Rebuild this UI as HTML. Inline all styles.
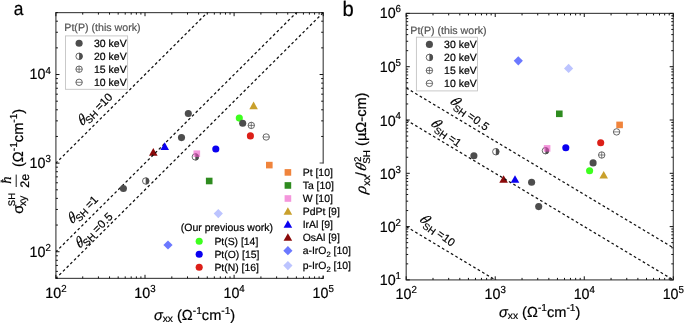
<!DOCTYPE html>
<html lang="en"><head><meta charset="utf-8"><title>Spin Hall conductivity figure</title>
<style>html,body{margin:0;padding:0;background:#fff}body{width:685px;height:325px;overflow:hidden}svg{display:block}text{font-family:'Liberation Sans', sans-serif;stroke:#000;stroke-width:.2px;text-rendering:geometricPrecision}.gt{fill:#555;stroke:#555}.sf{font-family:'Liberation Serif',serif}</style></head><body>
<svg width="685" height="325" viewBox="0 0 685 325">
<rect width="685" height="325" fill="#fff"/>
<defs>
<clipPath id="ca"><rect x="55.9" y="12.6" width="267.3" height="265.8"/></clipPath>
<clipPath id="cb"><rect x="406.2" y="13.4" width="267.1" height="266.5"/></clipPath>
</defs>
<g id="panel-a">
<rect x="55.9" y="12.6" width="267.3" height="265.8" fill="none" stroke="#4a4a4a" stroke-width="1.2"/>
<path d="M153.3 148.09L157.6 155.69L149 155.69z" fill="#8b0a0a"/>
<line x1="11.35" y1="207.43" x2="367.75" y2="-146.97" stroke="#111" stroke-width="1.25" stroke-dasharray="2.7 2.5" clip-path="url(#ca)"/>
<line x1="11.35" y1="296.03" x2="367.75" y2="-58.37" stroke="#111" stroke-width="1.25" stroke-dasharray="2.7 2.5" clip-path="url(#ca)"/>
<line x1="11.35" y1="322.7" x2="367.75" y2="-31.7" stroke="#111" stroke-width="1.25" stroke-dasharray="2.7 2.5" clip-path="url(#ca)"/>
<path d="M55.9 278.4v-3.6M55.9 12.6v3.6M82.72 278.4v-2M82.72 12.6v2M98.41 278.4v-2M98.41 12.6v2M109.54 278.4v-2M109.54 12.6v2M118.18 278.4v-2M118.18 12.6v2M125.23 278.4v-2M125.23 12.6v2M131.2 278.4v-2M131.2 12.6v2M136.37 278.4v-2M136.37 12.6v2M140.92 278.4v-2M140.92 12.6v2M145 278.4v-3.6M145 12.6v3.6M171.82 278.4v-2M171.82 12.6v2M187.51 278.4v-2M187.51 12.6v2M198.64 278.4v-2M198.64 12.6v2M207.28 278.4v-2M207.28 12.6v2M214.33 278.4v-2M214.33 12.6v2M220.3 278.4v-2M220.3 12.6v2M225.47 278.4v-2M225.47 12.6v2M230.02 278.4v-2M230.02 12.6v2M234.1 278.4v-3.6M234.1 12.6v3.6M260.92 278.4v-2M260.92 12.6v2M276.61 278.4v-2M276.61 12.6v2M287.74 278.4v-2M287.74 12.6v2M296.38 278.4v-2M296.38 12.6v2M303.43 278.4v-2M303.43 12.6v2M309.4 278.4v-2M309.4 12.6v2M314.57 278.4v-2M314.57 12.6v2M319.12 278.4v-2M319.12 12.6v2M323.2 278.4v-3.6M323.2 12.6v3.6M55.9 278.4h2M323.2 278.4h-2M55.9 271.38h2M323.2 271.38h-2M55.9 265.45h2M323.2 265.45h-2M55.9 260.31h2M323.2 260.31h-2M55.9 255.78h2M323.2 255.78h-2M55.9 251.73h3.6M323.2 251.73h-3.6M55.9 225.06h2M323.2 225.06h-2M55.9 209.46h2M323.2 209.46h-2M55.9 198.39h2M323.2 198.39h-2M55.9 189.8h2M323.2 189.8h-2M55.9 182.78h2M323.2 182.78h-2M55.9 176.85h2M323.2 176.85h-2M55.9 171.71h2M323.2 171.71h-2M55.9 167.18h2M323.2 167.18h-2M55.9 163.13h3.6M323.2 163.13h-3.6M55.9 136.46h2M323.2 136.46h-2M55.9 120.86h2M323.2 120.86h-2M55.9 109.79h2M323.2 109.79h-2M55.9 101.2h2M323.2 101.2h-2M55.9 94.18h2M323.2 94.18h-2M55.9 88.25h2M323.2 88.25h-2M55.9 83.11h2M323.2 83.11h-2M55.9 78.58h2M323.2 78.58h-2M55.9 74.53h3.6M323.2 74.53h-3.6M55.9 47.86h2M323.2 47.86h-2M55.9 32.26h2M323.2 32.26h-2M55.9 21.19h2M323.2 21.19h-2M55.9 12.6h2M323.2 12.6h-2" fill="none" stroke="#111" stroke-width="1.0"/>
<circle cx="123.4" cy="188.5" r="3.55" fill="#4d4d4d"/>
<circle cx="181.5" cy="137.6" r="3.55" fill="#4d4d4d"/>
<circle cx="188.3" cy="113.5" r="3.55" fill="#4d4d4d"/>
<circle cx="145.7" cy="181" r="3.2" fill="#fff" stroke="#4d4d4d" stroke-width="0.85"/>
<path d="M145.7 177.45a3.55 3.55 0 0 1 0 7.1z" fill="#4d4d4d"/>
<path d="M164.7 142.29L169 149.89L160.4 149.89z" fill="#0a00f0"/>
<circle cx="195.3" cy="156.9" r="3.2" fill="#fff" stroke="#4d4d4d" stroke-width="0.85"/>
<path d="M195.3 153.35a3.55 3.55 0 0 1 0 7.1z" fill="#4d4d4d"/>
<rect x="193.5" y="150.4" width="6.6" height="6.6" fill="#ec50c4" fill-opacity="0.6"/>
<circle cx="215.8" cy="149" r="3.55" fill="#0a00f0"/>
<rect x="205.9" y="177.7" width="6.6" height="6.6" fill="#2e8b1f"/>
<rect x="266" y="161.8" width="6.6" height="6.6" fill="#f0843c"/>
<path d="M253.6 101.59L257.9 109.19L249.3 109.19z" fill="#c9a02c"/>
<circle cx="239.3" cy="118.1" r="3.55" fill="#3dff1e"/>
<circle cx="242.7" cy="123.2" r="3.55" fill="#4d4d4d"/>
<circle cx="251.3" cy="125.4" r="3.2" fill="#fff" stroke="#4d4d4d" stroke-width="0.85"/>
<path d="M248.1 125.4h6.4M251.3 122.2v6.4" stroke="#4d4d4d" stroke-width="0.7" fill="none"/>
<circle cx="250.4" cy="135.9" r="3.55" fill="#dc1f18"/>
<circle cx="266.2" cy="137" r="3.2" fill="#fff" stroke="#4d4d4d" stroke-width="0.85"/>
<path d="M263 137h6.4" stroke="#4d4d4d" stroke-width="0.7" fill="none"/>
<path d="M168 240.4L172.6 245L168 249.6L163.4 245z" fill="#6b78ff"/>
<path d="M218.3 209L222.9 213.6L218.3 218.2L213.7 213.6z" fill="#bcc4ff"/>
<text x="64.3" y="30.7" font-size="10.65" fill="#000" text-anchor="start" class="gt">Pt(P) (this work)</text>
<rect x="65.5" y="35.9" width="62.1" height="53.4" fill="#fff" stroke="#c4c4c4" stroke-width="0.9"/>
<circle cx="79.1" cy="43.2" r="3.55" fill="#4d4d4d"/>
<circle cx="79.1" cy="56.3" r="3.2" fill="#fff" stroke="#4d4d4d" stroke-width="0.85"/>
<path d="M79.1 52.75a3.55 3.55 0 0 1 0 7.1z" fill="#4d4d4d"/>
<circle cx="79.1" cy="69.2" r="3.2" fill="#fff" stroke="#4d4d4d" stroke-width="0.85"/>
<path d="M75.9 69.2h6.4M79.1 66v6.4" stroke="#4d4d4d" stroke-width="0.7" fill="none"/>
<circle cx="79.1" cy="82.3" r="3.2" fill="#fff" stroke="#4d4d4d" stroke-width="0.85"/>
<path d="M75.9 82.3h6.4" stroke="#4d4d4d" stroke-width="0.7" fill="none"/>
<text x="94" y="46.6" font-size="10.5" fill="#000" text-anchor="start">30 keV</text>
<text x="94" y="59.65" font-size="10.5" fill="#000" text-anchor="start">20 keV</text>
<text x="94" y="72.7" font-size="10.5" fill="#000" text-anchor="start">15 keV</text>
<text x="94" y="85.75" font-size="10.5" fill="#000" text-anchor="start">10 keV</text>
<g transform="translate(82 125.5) rotate(-45)" fill="#000"><text class="sf" transform="translate(-0.75 0.6) skewX(-16)" font-style="italic" font-size="14.7">θ</text><text x="6.1" y="4.2" font-size="9.7">SH</text><text x="22.4" y="2.4" font-size="11.3">=10</text></g>
<g transform="translate(72.1 223.5) rotate(-45)" fill="#000"><text class="sf" transform="translate(-0.75 0.6) skewX(-16)" font-style="italic" font-size="14.7">θ</text><text x="6.1" y="4.2" font-size="9.7">SH</text><text x="22.4" y="2.4" font-size="11.3">=1</text></g>
<g transform="translate(79.5 248) rotate(-45)" fill="#000"><text class="sf" transform="translate(-0.75 0.6) skewX(-16)" font-style="italic" font-size="14.7">θ</text><text x="6.1" y="4.2" font-size="9.7">SH</text><text x="22.4" y="2.4" font-size="11.3" letter-spacing="0.35">=0.5</text></g>
<text x="180.8" y="231" font-size="10.5" fill="#000" text-anchor="start">(Our previous work)</text>
<circle cx="199.2" cy="241.2" r="3.55" fill="#3dff1e"/>
<text x="214.4" y="244.8" font-size="10.4" fill="#000" text-anchor="start">Pt(S) [14]</text>
<circle cx="199.2" cy="254.25" r="3.55" fill="#0a00f0"/>
<text x="214.4" y="257.85" font-size="10.4" fill="#000" text-anchor="start">Pt(O) [15]</text>
<circle cx="199.2" cy="267.3" r="3.55" fill="#dc1f18"/>
<text x="214.4" y="270.9" font-size="10.4" fill="#000" text-anchor="start">Pt(N) [16]</text>
<rect x="276" y="163.6" width="70" height="112" fill="#fff"/>
<rect x="284.6" y="169.1" width="6.6" height="6.6" fill="#f0843c"/>
<text x="302.7" y="175.8" font-size="10.45" fill="#000" text-anchor="start">Pt [10]</text>
<rect x="284.6" y="182.15" width="6.6" height="6.6" fill="#2e8b1f"/>
<text x="302.7" y="188.85" font-size="10.45" fill="#000" text-anchor="start">Ta [10]</text>
<rect x="284.6" y="195.2" width="6.6" height="6.6" fill="#ec50c4" fill-opacity="0.6"/>
<text x="302.7" y="201.9" font-size="10.45" fill="#000" text-anchor="start">W [10]</text>
<path d="M287.9 207.14L292.2 214.74L283.6 214.74z" fill="#c9a02c"/>
<text x="302.7" y="214.95" font-size="10.45" fill="#000" text-anchor="start">PdPt [9]</text>
<path d="M287.9 220.19L292.2 227.79L283.6 227.79z" fill="#0a00f0"/>
<text x="302.7" y="228" font-size="10.45" fill="#000" text-anchor="start">IrAl [9]</text>
<path d="M287.9 233.24L292.2 240.84L283.6 240.84z" fill="#8b0a0a"/>
<text x="302.7" y="241.05" font-size="10.45" fill="#000" text-anchor="start">OsAl [9]</text>
<path d="M287.9 246.1L292.5 250.7L287.9 255.3L283.3 250.7z" fill="#6b78ff"/>
<text x="302.7" y="254.1" font-size="10.45" fill="#000" text-anchor="start">a-IrO<tspan font-size="7.6" dy="3.2">2</tspan><tspan dy="-3.2"> </tspan>[10]</text>
<path d="M287.9 260.95L292.5 265.55L287.9 270.15L283.3 265.55z" fill="#bcc4ff"/>
<text x="302.7" y="268.95" font-size="10.45" fill="#000" text-anchor="start">p-IrO<tspan font-size="7.6" dy="3.2">2</tspan><tspan dy="-3.2"> </tspan>[10]</text>
<text transform="translate(55.9 297.8) scale(1 1.04)" font-size="14.3" text-anchor="middle">10<tspan font-size="9.7" dy="-5.9">2</tspan></text>
<text transform="translate(145 297.8) scale(1 1.04)" font-size="14.3" text-anchor="middle">10<tspan font-size="9.7" dy="-5.9">3</tspan></text>
<text transform="translate(234.1 297.8) scale(1 1.04)" font-size="14.3" text-anchor="middle">10<tspan font-size="9.7" dy="-5.9">4</tspan></text>
<text transform="translate(323.2 297.8) scale(1 1.04)" font-size="14.3" text-anchor="middle">10<tspan font-size="9.7" dy="-5.9">5</tspan></text>
<text transform="translate(50.9 257.03) scale(1 1.04)" font-size="14.3" text-anchor="end">10<tspan font-size="9.7" dy="-5.9">2</tspan></text>
<text transform="translate(50.9 168.43) scale(1 1.04)" font-size="14.3" text-anchor="end">10<tspan font-size="9.7" dy="-5.9">3</tspan></text>
<text transform="translate(50.9 78.93) scale(1 1.04)" font-size="14.3" text-anchor="end">10<tspan font-size="9.7" dy="-4.7">4</tspan></text>
<text x="194.6" y="319.6" font-size="14.6" text-anchor="middle"><tspan font-style="italic">σ</tspan><tspan font-size="10.2" dy="2.8">xx</tspan><tspan dy="-2.8"> (Ω</tspan><tspan font-size="10.2" dy="-5.9">-1</tspan><tspan dy="5.9">cm</tspan><tspan font-size="10.2" dy="-5.9">-1</tspan><tspan dy="5.9">)</tspan></text>
<g transform="translate(22.8 214.6) rotate(-90)"><text x="0.8" y="0" font-size="14.6">σ</text><text x="8.4" y="-8.0" font-size="9.5">SH</text><text x="8.5" y="3.0" font-size="10.4">xy</text><text x="34.4" y="-11.8" font-size="14.6" font-style="italic" class="sf" text-anchor="middle">ħ</text><path d="M27.6 -6.6h12.4" stroke="#000" stroke-width="0.9" fill="none"/><text x="33.8" y="6.0" font-size="12.4" text-anchor="middle">2e</text><text x="47.6" y="0" font-size="14.6">(Ω<tspan font-size="10.2" dy="-5.9">-1</tspan><tspan dy="5.9">cm</tspan><tspan font-size="10.2" dy="-5.9">-1</tspan><tspan dy="5.9">)</tspan></text></g>
<text transform="translate(13.7 15.2) scale(0.92 1)" font-size="18.9">a</text>
</g>
<g id="panel-b">
<rect x="406.2" y="13.4" width="267.1" height="266.5" fill="none" stroke="#4a4a4a" stroke-width="1.2"/>
<path d="M503.6 175.19L507.9 182.79L499.3 182.79z" fill="#8b0a0a"/>
<line x1="361.68" y1="199.95" x2="717.82" y2="413.15" stroke="#111" stroke-width="1.25" stroke-dasharray="2.7 2.5" clip-path="url(#cb)"/>
<line x1="361.68" y1="93.35" x2="717.82" y2="306.55" stroke="#111" stroke-width="1.25" stroke-dasharray="2.7 2.5" clip-path="url(#cb)"/>
<line x1="361.68" y1="61.26" x2="717.82" y2="274.46" stroke="#111" stroke-width="1.25" stroke-dasharray="2.7 2.5" clip-path="url(#cb)"/>
<path d="M406.2 279.9v-3.6M406.2 13.4v3.6M433 279.9v-2M433 13.4v2M448.68 279.9v-2M448.68 13.4v2M459.8 279.9v-2M459.8 13.4v2M468.43 279.9v-2M468.43 13.4v2M475.48 279.9v-2M475.48 13.4v2M481.44 279.9v-2M481.44 13.4v2M486.61 279.9v-2M486.61 13.4v2M491.16 279.9v-2M491.16 13.4v2M495.23 279.9v-3.6M495.23 13.4v3.6M522.04 279.9v-2M522.04 13.4v2M537.71 279.9v-2M537.71 13.4v2M548.84 279.9v-2M548.84 13.4v2M557.46 279.9v-2M557.46 13.4v2M564.51 279.9v-2M564.51 13.4v2M570.48 279.9v-2M570.48 13.4v2M575.64 279.9v-2M575.64 13.4v2M580.19 279.9v-2M580.19 13.4v2M584.27 279.9v-3.6M584.27 13.4v3.6M611.07 279.9v-2M611.07 13.4v2M626.75 279.9v-2M626.75 13.4v2M637.87 279.9v-2M637.87 13.4v2M646.5 279.9v-2M646.5 13.4v2M653.55 279.9v-2M653.55 13.4v2M659.51 279.9v-2M659.51 13.4v2M664.67 279.9v-2M664.67 13.4v2M669.23 279.9v-2M669.23 13.4v2M673.3 279.9v-3.6M673.3 13.4v3.6M406.2 279.9h3.6M673.3 279.9h-3.6M406.2 263.86h2M673.3 263.86h-2M406.2 254.47h2M673.3 254.47h-2M406.2 247.81h2M673.3 247.81h-2M406.2 242.64h2M673.3 242.64h-2M406.2 238.42h2M673.3 238.42h-2M406.2 234.86h2M673.3 234.86h-2M406.2 231.77h2M673.3 231.77h-2M406.2 229.04h2M673.3 229.04h-2M406.2 226.6h3.6M673.3 226.6h-3.6M406.2 210.56h2M673.3 210.56h-2M406.2 201.17h2M673.3 201.17h-2M406.2 194.51h2M673.3 194.51h-2M406.2 189.34h2M673.3 189.34h-2M406.2 185.12h2M673.3 185.12h-2M406.2 181.56h2M673.3 181.56h-2M406.2 178.47h2M673.3 178.47h-2M406.2 175.74h2M673.3 175.74h-2M406.2 173.3h3.6M673.3 173.3h-3.6M406.2 157.26h2M673.3 157.26h-2M406.2 147.87h2M673.3 147.87h-2M406.2 141.21h2M673.3 141.21h-2M406.2 136.04h2M673.3 136.04h-2M406.2 131.82h2M673.3 131.82h-2M406.2 128.26h2M673.3 128.26h-2M406.2 125.17h2M673.3 125.17h-2M406.2 122.44h2M673.3 122.44h-2M406.2 120h3.6M673.3 120h-3.6M406.2 103.96h2M673.3 103.96h-2M406.2 94.57h2M673.3 94.57h-2M406.2 87.91h2M673.3 87.91h-2M406.2 82.74h2M673.3 82.74h-2M406.2 78.52h2M673.3 78.52h-2M406.2 74.96h2M673.3 74.96h-2M406.2 71.87h2M673.3 71.87h-2M406.2 69.14h2M673.3 69.14h-2M406.2 66.7h3.6M673.3 66.7h-3.6M406.2 50.66h2M673.3 50.66h-2M406.2 41.27h2M673.3 41.27h-2M406.2 34.61h2M673.3 34.61h-2M406.2 29.44h2M673.3 29.44h-2M406.2 25.22h2M673.3 25.22h-2M406.2 21.66h2M673.3 21.66h-2M406.2 18.57h2M673.3 18.57h-2M406.2 15.84h2M673.3 15.84h-2M406.2 13.4h3.6M673.3 13.4h-3.6" fill="none" stroke="#111" stroke-width="1.0"/>
<circle cx="473.9" cy="155.7" r="3.55" fill="#4d4d4d"/>
<circle cx="531.6" cy="182.2" r="3.55" fill="#4d4d4d"/>
<circle cx="538.7" cy="206.6" r="3.55" fill="#4d4d4d"/>
<circle cx="593.1" cy="162.9" r="3.55" fill="#4d4d4d"/>
<circle cx="495.8" cy="151.7" r="3.2" fill="#fff" stroke="#4d4d4d" stroke-width="0.85"/>
<path d="M495.8 148.15a3.55 3.55 0 0 1 0 7.1z" fill="#4d4d4d"/>
<circle cx="545.4" cy="150.7" r="3.2" fill="#fff" stroke="#4d4d4d" stroke-width="0.85"/>
<path d="M545.4 147.15a3.55 3.55 0 0 1 0 7.1z" fill="#4d4d4d"/>
<path d="M515 175.19L519.3 182.79L510.7 182.79z" fill="#0a00f0"/>
<rect x="543.8" y="145.1" width="6.6" height="6.6" fill="#ec50c4" fill-opacity="0.6"/>
<circle cx="565.8" cy="147.8" r="3.55" fill="#0a00f0"/>
<rect x="556" y="110.5" width="6.6" height="6.6" fill="#2e8b1f"/>
<rect x="616.3" y="121.6" width="6.6" height="6.6" fill="#f0843c"/>
<path d="M518.3 56.2L522.9 60.8L518.3 65.4L513.7 60.8z" fill="#6b78ff"/>
<path d="M568.6 63.8L573.2 68.4L568.6 73L564 68.4z" fill="#bcc4ff"/>
<circle cx="589.6" cy="170.8" r="3.55" fill="#3dff1e"/>
<circle cx="601.7" cy="155" r="3.2" fill="#fff" stroke="#4d4d4d" stroke-width="0.85"/>
<path d="M598.5 155h6.4M601.7 151.8v6.4" stroke="#4d4d4d" stroke-width="0.7" fill="none"/>
<circle cx="600.7" cy="142.7" r="3.55" fill="#dc1f18"/>
<circle cx="616.6" cy="131.9" r="3.2" fill="#fff" stroke="#4d4d4d" stroke-width="0.85"/>
<path d="M613.4 131.9h6.4" stroke="#4d4d4d" stroke-width="0.7" fill="none"/>
<path d="M603.7 170.89L608 178.49L599.4 178.49z" fill="#c9a02c"/>
<text x="410.3" y="34.4" font-size="10.65" fill="#000" text-anchor="start" class="gt">Pt(P) (this work)</text>
<rect x="416.4" y="37.2" width="61.1" height="53.7" fill="#fff" stroke="#c4c4c4" stroke-width="0.9"/>
<circle cx="429.4" cy="44.4" r="3.55" fill="#4d4d4d"/>
<circle cx="429.4" cy="57.4" r="3.2" fill="#fff" stroke="#4d4d4d" stroke-width="0.85"/>
<path d="M429.4 53.85a3.55 3.55 0 0 1 0 7.1z" fill="#4d4d4d"/>
<circle cx="429.4" cy="70.5" r="3.2" fill="#fff" stroke="#4d4d4d" stroke-width="0.85"/>
<path d="M426.2 70.5h6.4M429.4 67.3v6.4" stroke="#4d4d4d" stroke-width="0.7" fill="none"/>
<circle cx="429.4" cy="83.4" r="3.2" fill="#fff" stroke="#4d4d4d" stroke-width="0.85"/>
<path d="M426.2 83.4h6.4" stroke="#4d4d4d" stroke-width="0.7" fill="none"/>
<text x="444.1" y="47.7" font-size="10.5" fill="#000" text-anchor="start">30 keV</text>
<text x="444.1" y="60.75" font-size="10.5" fill="#000" text-anchor="start">20 keV</text>
<text x="444.1" y="73.8" font-size="10.5" fill="#000" text-anchor="start">15 keV</text>
<text x="444.1" y="86.85" font-size="10.5" fill="#000" text-anchor="start">10 keV</text>
<g transform="translate(449.9 102.4) rotate(36)" fill="#000"><text class="sf" transform="translate(-0.75 0.6) skewX(-16)" font-style="italic" font-size="14.7">θ</text><text x="6.1" y="4.2" font-size="9.7">SH</text><text x="22.4" y="2.4" font-size="11.3" letter-spacing="0.35">=0.5</text></g>
<g transform="translate(430.7 124.8) rotate(36)" fill="#000"><text class="sf" transform="translate(-0.75 0.6) skewX(-16)" font-style="italic" font-size="14.7">θ</text><text x="6.1" y="4.2" font-size="9.7">SH</text><text x="22.4" y="2.4" font-size="11.3">=1</text></g>
<g transform="translate(419.4 220.5) rotate(36)" fill="#000"><text class="sf" transform="translate(-0.75 0.6) skewX(-16)" font-style="italic" font-size="14.7">θ</text><text x="6.1" y="4.2" font-size="9.7">SH</text><text x="22.4" y="2.4" font-size="11.3">=10</text></g>
<text transform="translate(406.2 298.7) scale(1 1.04)" font-size="14.3" text-anchor="middle">10<tspan font-size="9.7" dy="-5.9">2</tspan></text>
<text transform="translate(495.23 298.7) scale(1 1.04)" font-size="14.3" text-anchor="middle">10<tspan font-size="9.7" dy="-5.9">3</tspan></text>
<text transform="translate(584.27 298.7) scale(1 1.04)" font-size="14.3" text-anchor="middle">10<tspan font-size="9.7" dy="-5.9">4</tspan></text>
<text transform="translate(673.3 298.7) scale(1 1.04)" font-size="14.3" text-anchor="middle">10<tspan font-size="9.7" dy="-5.9">5</tspan></text>
<text transform="translate(401 285.4) scale(1 1.04)" font-size="14.3" text-anchor="end">10<tspan font-size="9.7" dy="-5.9">1</tspan></text>
<text transform="translate(401 232.1) scale(1 1.04)" font-size="14.3" text-anchor="end">10<tspan font-size="9.7" dy="-5.9">2</tspan></text>
<text transform="translate(401 178.8) scale(1 1.04)" font-size="14.3" text-anchor="end">10<tspan font-size="9.7" dy="-5.9">3</tspan></text>
<text transform="translate(401 125.5) scale(1 1.04)" font-size="14.3" text-anchor="end">10<tspan font-size="9.7" dy="-5.9">4</tspan></text>
<text transform="translate(401 71.9) scale(1 1.04)" font-size="14.3" text-anchor="end">10<tspan font-size="9.7" dy="-5.9">5</tspan></text>
<text transform="translate(401 18.3) scale(1 1.04)" font-size="14.3" text-anchor="end">10<tspan font-size="9.7" dy="-5.9">6</tspan></text>
<text x="539.7" y="316.5" font-size="14.6" text-anchor="middle"><tspan font-style="italic">σ</tspan><tspan font-size="10.2" dy="2.8">xx</tspan><tspan dy="-2.8"> (Ω</tspan><tspan font-size="10.2" dy="-5.9">-1</tspan><tspan dy="5.9">cm</tspan><tspan font-size="10.2" dy="-5.9">-1</tspan><tspan dy="5.9">)</tspan></text>
<g transform="translate(365.9 193.3) rotate(-90)"><text class="sf" transform="translate(-0.8 0) skewX(-8)" font-size="16" font-style="italic">ρ</text><text x="7.6" y="4.2" font-size="10.4">xx</text><text x="17.0" y="0" font-size="14.6">/</text><text class="sf" transform="translate(21.8 -0.2) skewX(-14)" font-size="15" font-style="italic">θ</text><text x="31.2" y="-4.9" font-size="9.8">2</text><text x="29.6" y="4.4" font-size="9.8">SH</text><text x="47.4" y="0" font-size="14.6">(µΩ-cm)</text></g>
<text transform="translate(342.6 16.2) scale(1 1.04)" font-size="20.2">b</text>
</g>
</svg></body></html>
